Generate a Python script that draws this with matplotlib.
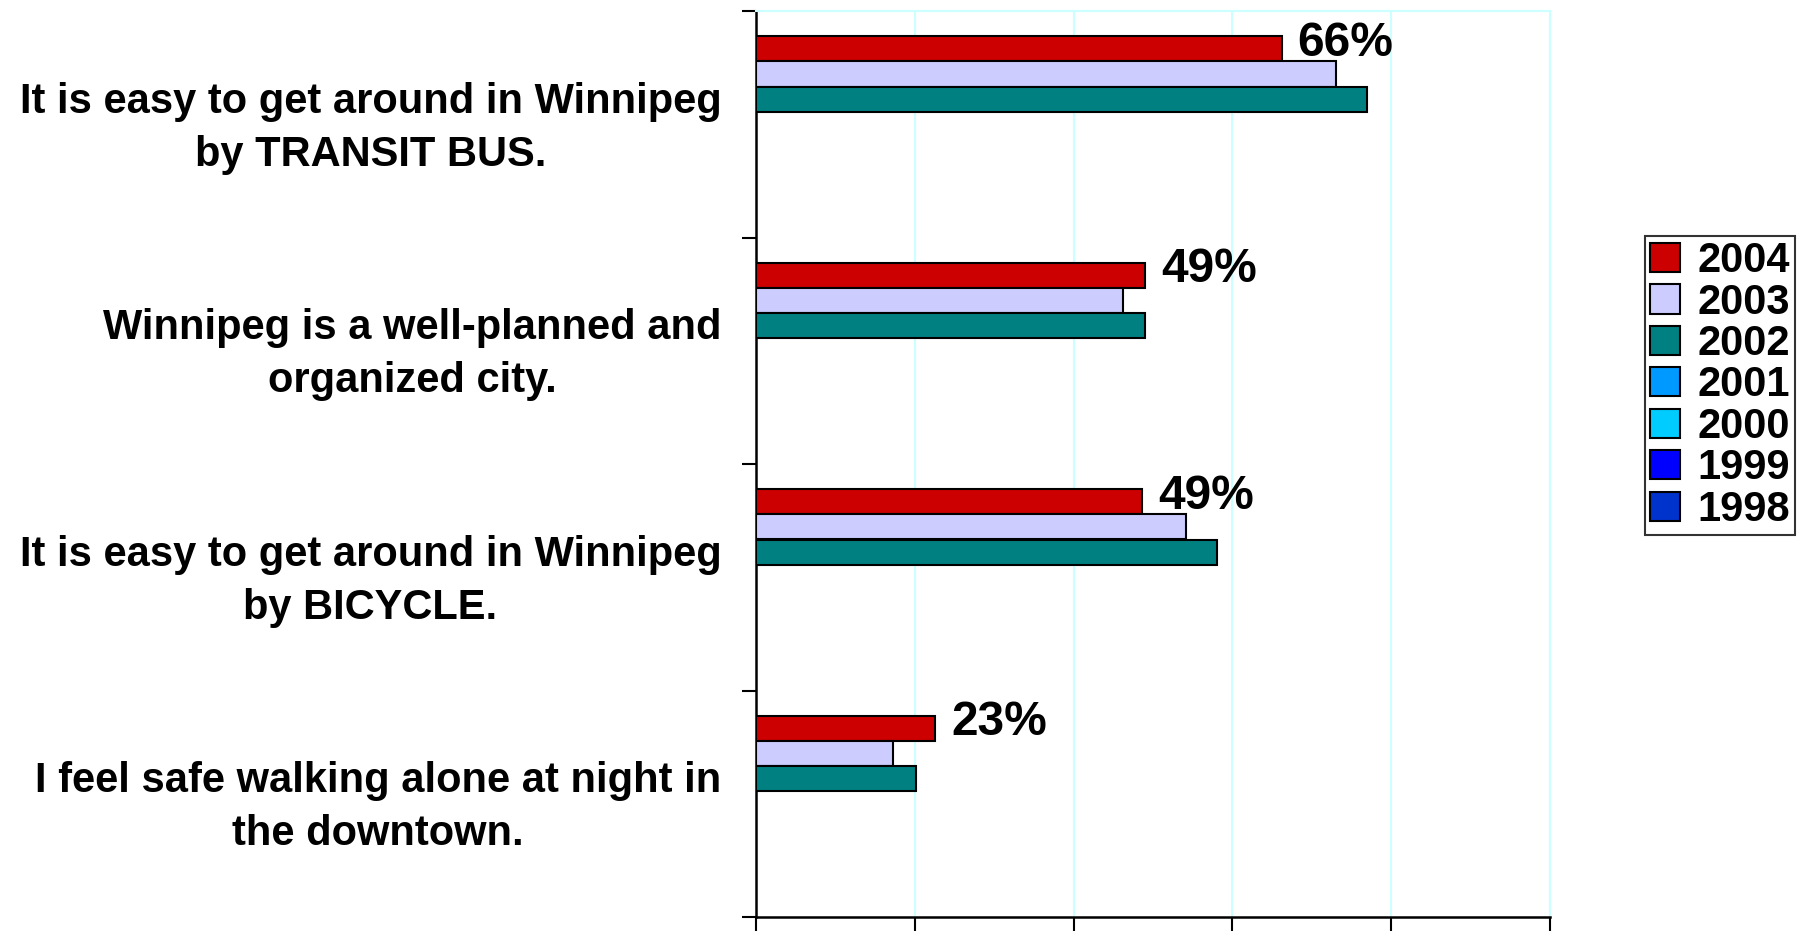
import matplotlib
matplotlib.use("Agg")
import matplotlib.pyplot as plt
import matplotlib.transforms as mtransforms
from matplotlib.patches import Patch
import numpy as np

plt.rcParams['font.family'] = ['Liberation Sans', 'DejaVu Sans']

categories = [
    "It is easy to get around in Winnipeg\nby TRANSIT BUS.",
    "Winnipeg is a well-planned and\norganized city.",
    "It is easy to get around in Winnipeg\nby BICYCLE.",
    "I feel safe walking alone at night in\nthe downtown.",
]
years = ["2004", "2003", "2002", "2001", "2000", "1999", "1998"]
colors = ["#CC0000", "#CCCCFF", "#008080", "#0099FF", "#00CCFF", "#0000FF", "#0033CC"]
v2004 = [66.2, 49.0, 48.6, 22.6]
v2003 = [73.0, 46.2, 54.1, 17.3]
v2002 = [77.0, 49.0, 58.1, 20.1]
v2001 = [np.nan] * 4
v2000 = [np.nan] * 4
v1999 = [np.nan] * 4
v1998 = [np.nan] * 4
series = [v2004, v2003, v2002, v2001, v2000, v1999, v1998]
labels_2004 = [f"{v:.0f}%" for v in v2004]

fig = plt.figure(figsize=(18.10, 9.31), dpi=100)
ax = fig.add_axes([756/1810, 1-917/931, (1550-756)/1810, (917-11)/931])

n = len(years)
bw = 1.0 / (n + 2)
y = np.arange(len(categories))
for i, (vals, col) in enumerate(zip(series, colors)):
    off = -0.5 + bw * (1 + i) + bw / 2
    ax.barh(y + off, vals, height=bw, color=col, edgecolor="black", linewidth=1.5, zorder=3)

for k, (v, lab) in enumerate(zip(v2004, labels_2004)):
    off = -0.5 + bw * 1.5
    ax.text(v + 2.0, y[k] + off - 0.025, lab, ha="left", va="center",
            fontsize=34.5, fontweight="bold", zorder=4)

ax.set_xlim(0, 100)
ax.set_ylim(len(categories) - 0.5, -0.5)
ax.set_xticks([0, 20, 40, 60, 80, 100])
ax.set_xticklabels([])
ax.xaxis.grid(True, color="#CCFFFF", linewidth=1.5, zorder=0)
ax.set_yticks(np.arange(len(categories) + 1) - 0.5)
ax.set_yticklabels([])
ax.set_yticks(y, minor=True)
ax.set_yticklabels(categories, minor=True, fontsize=30, fontweight="bold",
                   multialignment="center", linespacing=1.42)
ax.tick_params(axis="y", which="minor", length=0, pad=25)
ax.tick_params(axis="y", which="major", length=10, width=1.5, direction="out")
ax.tick_params(axis="x", which="major", length=10, width=1.5, direction="out")
ax.set_axisbelow(True)

shift = mtransforms.ScaledTranslation(0, 0.07, fig.dpi_scale_trans)
for lab in ax.get_yticklabels(minor=True):
    lab.set_transform(lab.get_transform() + shift)

for s in ["top", "right"]:
    ax.spines[s].set_color("#CCFFFF")
    ax.spines[s].set_linewidth(1.5)
for s in ["left", "bottom"]:
    ax.spines[s].set_color("black")
    ax.spines[s].set_linewidth(1.8)

handles = [Patch(facecolor=c, edgecolor="black", linewidth=1.5) for c in colors]
leg = fig.legend(handles, years, loc="center", bbox_to_anchor=(0.9503, 0.586),
                 prop={"size": 30, "weight": "bold"}, frameon=True, fancybox=False,
                 labelspacing=0.035, handlelength=0.7, handleheight=0.7,
                 handletextpad=0.42, borderpad=0.12, borderaxespad=0)
leg.get_frame().set_edgecolor("black")
leg.get_frame().set_linewidth(1.5)

fig.savefig("out.png", dpi=100)
